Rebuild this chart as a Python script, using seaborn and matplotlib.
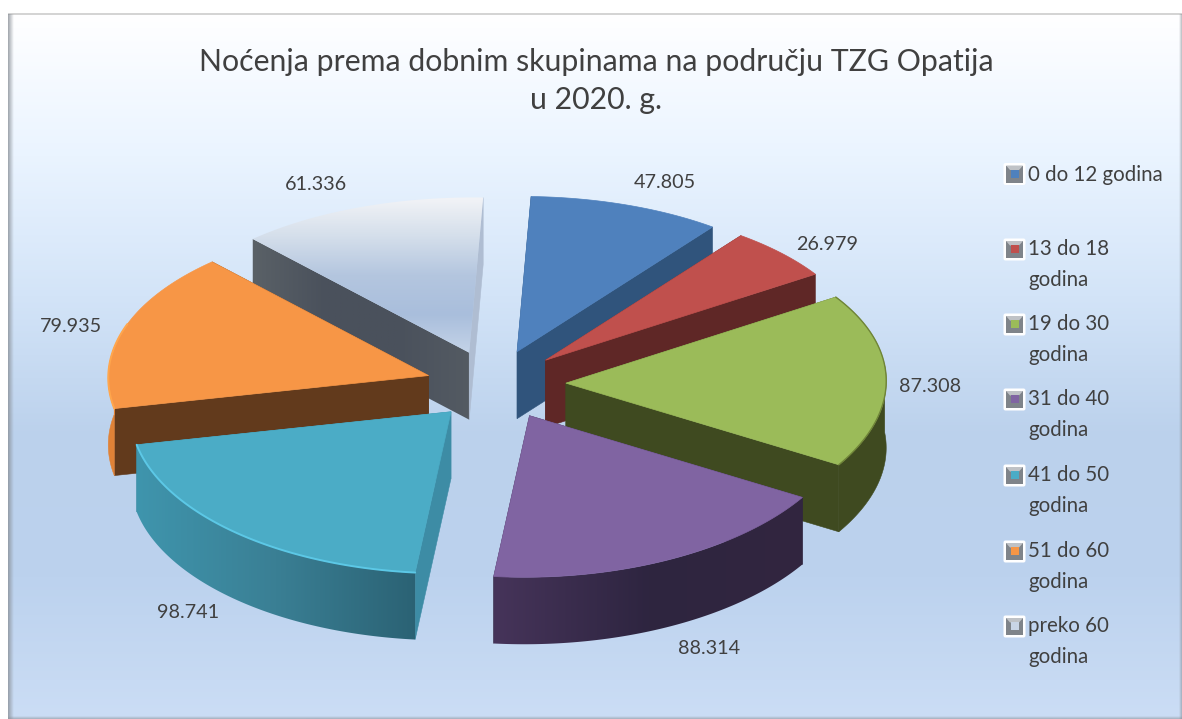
import numpy as np
import matplotlib
matplotlib.use("Agg")
import matplotlib.pyplot as plt
from matplotlib.patches import Polygon, FancyBboxPatch, Rectangle
import seaborn as sns

# ---- data ----
categories = ["0 do 12 godina", "13 do 18\ngodina", "19 do 30\ngodina", "31 do 40\ngodina",
              "41 do 50\ngodina", "51 do 60\ngodina", "preko 60\ngodina"]
values = [47805, 26979, 87308, 88314, 98741, 79935, 61336]
title = "Noćenja prema dobnim skupinama na području TZG Opatija\nu 2020. g."

# ---- style ----
top_colors = ["#4F81BD", "#C0504D", "#9BBB59", "#8064A2", "#4BACC6", "#F79646", "#C9D5E6"]
start_walls = ["#30547C", "#5F2726", "#3F4A20", "#2F2540", "#3D8CA5", "#623A1C", "#565D64"]
end_walls = ["#30547C", "#5F2726", "#3F4A20", "#2F2540", "#3D8CA5", "#623A1C", "#AFBDD2"]
rim_stops = [["#30547C"] * 2, ["#5F2726"] * 2, ["#3F4A20", "#3F4A20"],
             ["#46345A", "#2E2540", "#32263F"], ["#3F95AD", "#3A7F94", "#2B6274"],
             ["#E08237", "#E08237"], ["#AFBDD2"] * 2]
edge_lights = [None, None, "#6F8438", None, "#5CC8E6", "#FFA64D", None]
label_pos = [(665, 183), (827, 244), (930, 386), (709, 648), (188, 612), (71, 326), (316, 185)]
legend_y = [175, 264.5, 339.5, 414.5, 490.5, 566.5, 641.5]
draw_order = [6, 0, 1, 2, 5, 4, 3]
text_color = "#404040"

CX, CY = 496, 385      # pie centre
RX, RY = 320, 158.5    # top ellipse radii
EX, EY = 70, 35        # explode distance
DEPTH = 67             # extrusion
SHEAR, TILT = 0.09, 0.015

sns.set_theme(style="white")
plt.rcParams["font.family"] = ["Lato", "DejaVu Sans"]

fig = plt.figure(figsize=(11.82, 7.19), dpi=100, facecolor="white")
ax = fig.add_axes([0, 0, 1, 1])
ax.axis("off")

# background gradient
bg = sns.blend_palette(["#FFFFFF", "#EAF4FF", "#D3E4F8", "#BBD1EC", "#BCD2EE", "#CBDDF5"], 256)
ax.imshow(np.array(bg)[:, None, :], extent=(8, 1182, 719, 14), aspect="auto", zorder=0)
ax.add_patch(Rectangle((8, 13), 1174, 2, color="#D4D4D4", lw=0, zorder=1))
for i, a in enumerate(np.linspace(0.75, 0.05, 6)):
    ax.add_patch(Rectangle((8 + i, 14), 1.2, 705, color="#8A9097", alpha=a, lw=0, zorder=1))
for i, a in enumerate(np.linspace(0.5, 0.1, 3)):
    ax.add_patch(Rectangle((1181 - i, 14), 1, 705, color="#8A9097", alpha=a, lw=0, zorder=1))
    ax.add_patch(Rectangle((8, 718 - i), 1174, 1, color="#8A9097", alpha=a, lw=0, zorder=1))


def offset(theta):
    """Screen offset of a rim point at clockwise angle theta (radians from 12 o'clock)."""
    c = np.cos(theta)
    dy = -RY * c * (1 - 0.02 * c)
    dx = RX * np.sin(theta) - SHEAR * dy
    return dx, dy + TILT * dx


def gradient_fill(verts, stops, zorder, vertical=False):
    """Fill a polygon with a smooth colour ramp running left-right or top-bottom."""
    verts = np.asarray(verts)
    ramp = np.array(sns.blend_palette(stops, 256))
    img = ramp[:, None, :] if vertical else ramp[None, :, :]
    clip = Polygon(verts, closed=True, fc="none", ec="none")
    ax.add_patch(clip)
    x0, x1 = verts[:, 0].min() - 1, verts[:, 0].max() + 1
    y0, y1 = verts[:, 1].min() - 1, verts[:, 1].max() + 1
    im = ax.imshow(img, extent=(x0, x1, y1, y0), aspect="auto", zorder=zorder, interpolation="bilinear")
    im.set_clip_path(clip)


vals = np.array(values, dtype=float)
edges = np.concatenate([[0], np.cumsum(vals)]) / vals.sum() * 2 * np.pi
z = 10
for k in draw_order:
    t0, t1 = edges[k], edges[k + 1]
    mid = (t0 + t1) / 2
    ax0 = CX + EX * np.sin(mid)
    ay0 = CY - EY * np.cos(mid)
    th = np.linspace(t0, t1, 120)
    dx, dy = offset(th)
    xs, ys = ax0 + dx, ay0 + dy

    # radial walls
    for idx, col in ((0, start_walls[k]), (-1, end_walls[k])):
        wall = [(ax0, ay0), (xs[idx], ys[idx]), (xs[idx], ys[idx] + DEPTH), (ax0, ay0 + DEPTH)]
        if k == 6 and idx == 0:
            gradient_fill(wall, ["#5A6167", "#4A515C", "#4A515C", "#545B63"], z)
        else:
            ax.add_patch(Polygon(wall, closed=True, fc=col, ec=col, lw=0.4, zorder=z))
        z += 1
    # outer rim, only the part that faces the viewer
    front = np.cos(th) < 0.15
    if front.any():
        fx, fy = xs[front], ys[front]
        rim = np.column_stack([np.r_[fx, fx[::-1]], np.r_[fy, fy[::-1] + DEPTH]])
        if k in (3, 4):
            gradient_fill(rim, rim_stops[k], z)
        else:
            ax.add_patch(Polygon(rim, closed=True, fc=rim_stops[k][0], ec=rim_stops[k][0], lw=0.4, zorder=z))
    z += 1
    # top face
    verts = np.column_stack([np.r_[ax0, xs], np.r_[ay0, ys]])
    if k == 6:
        gradient_fill(verts, ["#F3F4F7", "#D5DFEB", "#B4C6DF", "#A9BEDC", "#C5D4E8"], z, vertical=True)
    else:
        ax.add_patch(Polygon(verts, closed=True, fc=top_colors[k], ec=top_colors[k], lw=0.5, zorder=z))
    z += 1
    if edge_lights[k]:
        lit = np.cos(th) < 0.3 if k == 5 else np.ones_like(th, dtype=bool)
        ax.plot(xs[lit], ys[lit], color=edge_lights[k], lw=1.4 if k != 2 else 1.0,
                solid_capstyle="round", zorder=z)
    z += 1

# value labels
for v, (lx, ly) in zip(values, label_pos):
    ax.text(lx, ly, f"{v:,}".replace(",", "."), ha="center", va="center",
            fontsize=14.2, color=text_color, zorder=200)

# legend
for c, y, col in zip(categories, legend_y, top_colors):
    my = y - 1 if "\n" not in c else y - 15
    ax.add_patch(FancyBboxPatch((1005, my - 9.5), 19, 19, boxstyle="round,pad=1.5,rounding_size=2",
                                fc="white", ec="none", zorder=200))
    ax.add_patch(Rectangle((1006, my - 8.5), 17, 17, fc="#7F848A", ec="none", zorder=201))
    ax.add_patch(Polygon([(1006, my - 8.5), (1023, my - 8.5), (1019, my - 4), (1010, my - 4)],
                         closed=True, fc="#BFC2C6", ec="none", zorder=202))
    ax.add_patch(Rectangle((1010.5, my - 4.5), 8, 8, fc=col, ec="none", zorder=203))
    ax.text(1028, y, c, ha="left", va="center", fontsize=14.8, color=text_color,
            linespacing=1.65, zorder=200)

# title
ax.text(596, 81, title, ha="center", va="center", fontsize=21.75, color=text_color,
        linespacing=1.4, zorder=200)

ax.set_xlim(0, 1182)
ax.set_ylim(719, 0)
fig.savefig("out.png", dpi=100, facecolor="white")
